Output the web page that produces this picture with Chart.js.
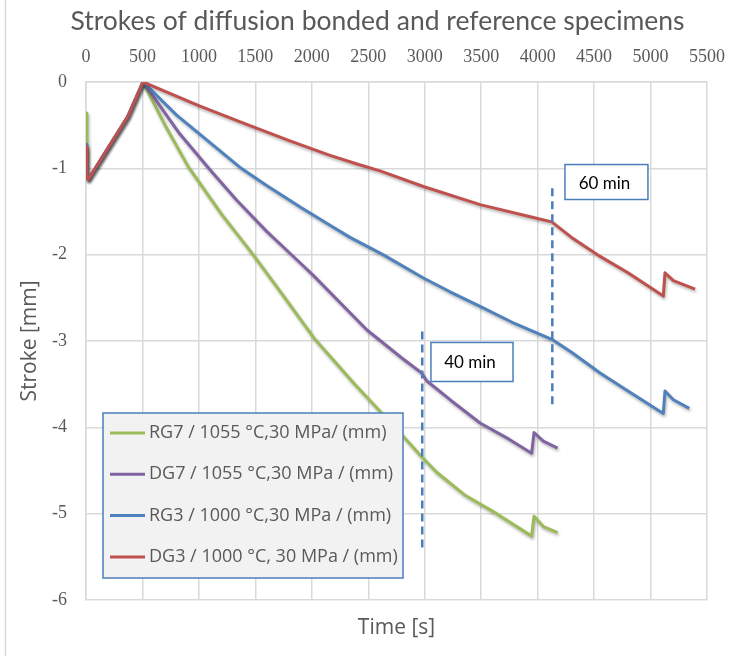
<!DOCTYPE html>
<html>
<head>
<meta charset="utf-8">
<title>Strokes of diffusion bonded and reference specimens</title>
<script src="https://cdn.jsdelivr.net/npm/chart.js@4/dist/chart.umd.min.js"></script>
<style>
  html, body { margin: 0; padding: 0; background: #fff; }
  #wrap { width: 755px; height: 656px; }
</style>
</head>
<body>
<div id="wrap"><canvas id="strokeChart" width="755" height="656"></canvas></div>
<script>
// Series values (time in s, stroke in mm)
var rg7Time   = [0, 8, 20, 370, 505, 700, 905, 1200, 1480, 1750, 2028, 2380, 2737, 2973, 3106, 3350, 3637, 3947, 3968, 4050, 4177];
var rg7Stroke = [-0.36, -1.08, -1.13, -0.40, 0, -0.50, -0.98, -1.53, -2.0, -2.48, -2.98, -3.5, -4.0, -4.34, -4.52, -4.78, -5.0, -5.26, -5.03, -5.15, -5.22];

var dg7Time   = [0, 8, 20, 370, 505, 830, 1100, 1335, 1600, 1860, 2013, 2486, 2800, 2973, 3017, 3224, 3490, 3750, 3947, 3968, 4050, 4177];
var dg7Stroke = [-0.78, -1.08, -1.13, -0.40, 0, -0.60, -1.02, -1.37, -1.73, -2.05, -2.24, -2.87, -3.20, -3.37, -3.46, -3.68, -3.95, -4.14, -4.30, -4.06, -4.16, -4.24];

var rg3Time   = [0, 8, 20, 370, 505, 800, 1069, 1364, 1600, 1900, 2161, 2338, 2630, 2988, 3224, 3490, 3800, 4125, 4300, 4553, 4800, 5113, 5128, 5202, 5343];
var rg3Stroke = [-0.72, -1.08, -1.13, -0.40, 0, -0.38, -0.67, -0.99, -1.2, -1.45, -1.66, -1.80, -2.0, -2.27, -2.43, -2.60, -2.80, -2.98, -3.13, -3.37, -3.58, -3.84, -3.58, -3.68, -3.78];

var dg3Time   = [0, 8, 20, 370, 505, 1009, 1423, 1800, 2161, 2400, 2604, 2988, 3490, 3962, 4125, 4300, 4553, 4800, 5113, 5128, 5202, 5394];
var dg3Stroke = [-0.75, -1.08, -1.13, -0.40, 0, -0.28, -0.49, -0.68, -0.85, -0.95, -1.03, -1.21, -1.42, -1.57, -1.62, -1.80, -2.02, -2.21, -2.48, -2.21, -2.30, -2.40];

var seriesLabels = [
  'RG7 / 1055 °C,30 MPa/ (mm)',
  'DG7 / 1055 °C,30 MPa / (mm)',
  'RG3 / 1000 °C,30 MPa / (mm)',
  'DG3 / 1000 °C, 30 MPa / (mm)'
];
var seriesColors = ['#9bbb59', '#8064a2', '#4f81bd', '#c0504d'];

// Holding-time markers (dashed lines)
var markerLabels = ['40 min', '60 min'];
var markerTime   = [2978, 4130];
var markerTop    = [-2.89, -1.23];
var markerBottom = [-5.44, -3.77];

// Axis ticks
var timeTicks   = [0, 500, 1000, 1500, 2000, 2500, 3000, 3500, 4000, 4500, 5000, 5500];
var strokeTicks = [-6, -5, -4, -3, -2, -1, 0];

function toPoints(xs, ys) {
  var pts = [];
  for (var i = 0; i < xs.length; i++) pts.push({ x: xs[i], y: ys[i] });
  return pts;
}

function fixTicks(list) {
  return function (scale) {
    scale.ticks = list.map(function (v) { return { value: v }; });
  };
}

function plainLabel(v) { return String(v); }

var datasets = [];
var allTimes = [rg7Time, dg7Time, rg3Time, dg3Time];
var allStrokes = [rg7Stroke, dg7Stroke, rg3Stroke, dg3Stroke];
for (var s = 0; s < 4; s++) {
  datasets.push({
    label: seriesLabels[s],
    data: toPoints(allTimes[s], allStrokes[s]),
    borderColor: seriesColors[s],
    backgroundColor: seriesColors[s],
    borderWidth: 3,
    borderJoinStyle: 'round',
    pointRadius: 0,
    tension: 0,
    fill: false,
    order: 4 - s,
    shadow: true
  });
}
for (var m = 0; m < markerTime.length; m++) {
  datasets.push({
    label: markerLabels[m],
    data: [{ x: markerTime[m], y: markerTop[m] }, { x: markerTime[m], y: markerBottom[m] }],
    borderColor: '#4a7ebb',
    borderWidth: 2.5,
    borderDash: [8, 5],
    pointRadius: 0,
    fill: false,
    order: 0
  });
}

// soft shadow under the four measured curves
var shadowPlugin = {
  id: 'lineShadow',
  beforeDatasetDraw: function (chart, args) {
    var ctx = chart.ctx;
    ctx.save();
    if (chart.data.datasets[args.index].shadow) {
      ctx.shadowColor = 'rgba(0,0,0,0.30)';
      ctx.shadowBlur = 3;
      ctx.shadowOffsetX = 1;
      ctx.shadowOffsetY = 2;
    }
  },
  afterDatasetDraw: function (chart) {
    chart.ctx.restore();
  }
};

// thin frame line on the left and white background
var framePlugin = {
  id: 'frame',
  beforeDraw: function (chart) {
    var ctx = chart.ctx;
    ctx.save();
    ctx.fillStyle = '#ffffff';
    ctx.fillRect(0, 0, chart.width, chart.height);
    ctx.strokeStyle = '#d9d9d9';
    ctx.lineWidth = 1.5;
    ctx.beginPath();
    ctx.moveTo(5.5, 0);
    ctx.lineTo(5.5, chart.height);
    ctx.stroke();
    ctx.restore();
  }
};

// text boxes for the markers, placed in data units
var boxPlugin = {
  id: 'markerBoxes',
  afterDraw: function (chart, args, opts) {
    var ctx = chart.ctx;
    var xs = chart.scales.x, ys = chart.scales.y;
    ctx.save();
    opts.boxes.forEach(function (b) {
      var x0 = xs.getPixelForValue(b.x0), x1 = xs.getPixelForValue(b.x1);
      var y0 = ys.getPixelForValue(b.y0), y1 = ys.getPixelForValue(b.y1);
      ctx.fillStyle = '#ffffff';
      ctx.fillRect(x0, y0, x1 - x0, y1 - y0);
      ctx.strokeStyle = '#4a7ebb';
      ctx.lineWidth = 1.5;
      ctx.strokeRect(x0, y0, x1 - x0, y1 - y0);
      ctx.fillStyle = '#000000';
      ctx.font = '17px Lato';
      ctx.textAlign = 'center';
      ctx.textBaseline = 'middle';
      ctx.fillText(b.text, (x0 + x1) / 2 - 2, (y0 + y1) / 2 + 1);
    });
    ctx.restore();
  }
};

// legend box drawn inside the plot, like the original
var legendPlugin = {
  id: 'insideLegend',
  afterDraw: function (chart, args, opts) {
    var ctx = chart.ctx;
    ctx.save();
    ctx.fillStyle = '#f2f2f2';
    ctx.fillRect(opts.left, opts.top, opts.width, opts.height);
    ctx.strokeStyle = '#4a7ebb';
    ctx.lineWidth = 1.5;
    ctx.strokeRect(opts.left, opts.top, opts.width, opts.height);
    ctx.font = '18px "Open Sans"';
    ctx.textBaseline = 'middle';
    ctx.textAlign = 'left';
    for (var i = 0; i < 4; i++) {
      var ds = chart.data.datasets[i];
      var y = opts.firstRow + i * opts.rowStep;
      ctx.strokeStyle = ds.borderColor;
      ctx.lineWidth = 3;
      ctx.beginPath();
      ctx.moveTo(opts.left + 7, y);
      ctx.lineTo(opts.left + 42, y);
      ctx.stroke();
      ctx.fillStyle = '#595959';
      ctx.fillText(ds.label, opts.left + 46, y);
    }
    ctx.restore();
  }
};

var tickFont = { family: "'Liberation Serif', 'Times New Roman', serif", size: 18 };

var ctx = document.getElementById('strokeChart').getContext('2d');
var strokeChart = new Chart(ctx, {
  type: 'line',
  data: { datasets: datasets },
  options: {
    responsive: false,
    animation: false,
    devicePixelRatio: 1,
    layout: { padding: 0 },
    plugins: {
      legend: { display: false },
      tooltip: { enabled: false },
      title: {
        display: true,
        text: 'Strokes of diffusion bonded and reference specimens',
        color: '#595959',
        font: { family: 'Lato', size: 26.5, weight: 'normal' },
        padding: { top: 6, bottom: 3 }
      },
      insideLegend: { left: 103, top: 413, width: 300, height: 165, firstRow: 433, rowStep: 41.3 },
      markerBoxes: {
        boxes: [
          { text: '60 min', x0: 4242, x1: 4977, y0: -0.956, y1: -1.361 },
          { text: '40 min', x0: 3055, x1: 3782, y0: -3.017, y1: -3.469 }
        ]
      }
    },
    scales: {
      x: {
        type: 'linear',
        position: 'top',
        min: 0,
        max: 5500,
        afterBuildTicks: fixTicks(timeTicks),
        afterFit: function (scale) { scale.height = 82 - scale.chart.titleBlock.height; },
        grid: { color: '#d9d9d9', lineWidth: 1.5, drawTicks: false },
        border: { color: '#d9d9d9', width: 1.5 },
        ticks: {
          color: '#595959',
          padding: 14,
          maxRotation: 0,
          autoSkip: false,
          callback: plainLabel,
          font: tickFont
        }
      },
      x2: {
        type: 'linear',
        position: 'bottom',
        min: 0,
        max: 5500,
        afterFit: function (scale) { scale.height = 56; },
        grid: { display: false, drawTicks: false },
        border: { display: false },
        ticks: { display: false },
        title: {
          display: true,
          text: 'Time [s]',
          color: '#595959',
          font: { family: 'Open Sans', size: 21 },
          padding: { top: 0, bottom: 15 }
        }
      },
      y: {
        type: 'linear',
        min: -6,
        max: 0,
        afterBuildTicks: fixTicks(strokeTicks),
        afterFit: function (scale) { scale.width = 86; },
        grid: { color: '#d9d9d9', lineWidth: 1.5, drawTicks: false },
        border: { color: '#d9d9d9', width: 1.5 },
        ticks: {
          color: '#595959',
          padding: 19,
          callback: plainLabel,
          font: tickFont
        },
        title: {
          display: true,
          text: 'Stroke [mm]',
          color: '#595959',
          font: { family: 'Open Sans', size: 21 },
          padding: { top: 17, bottom: 0 }
        }
      },
      yRight: {
        type: 'linear',
        position: 'right',
        min: -6,
        max: 0,
        afterFit: function (scale) { scale.width = 48; },
        grid: { display: false, drawTicks: false },
        border: { display: false },
        ticks: { display: false }
      }
    }
  },
  plugins: [framePlugin, shadowPlugin, boxPlugin, legendPlugin]
});
</script>
</body>
</html>
